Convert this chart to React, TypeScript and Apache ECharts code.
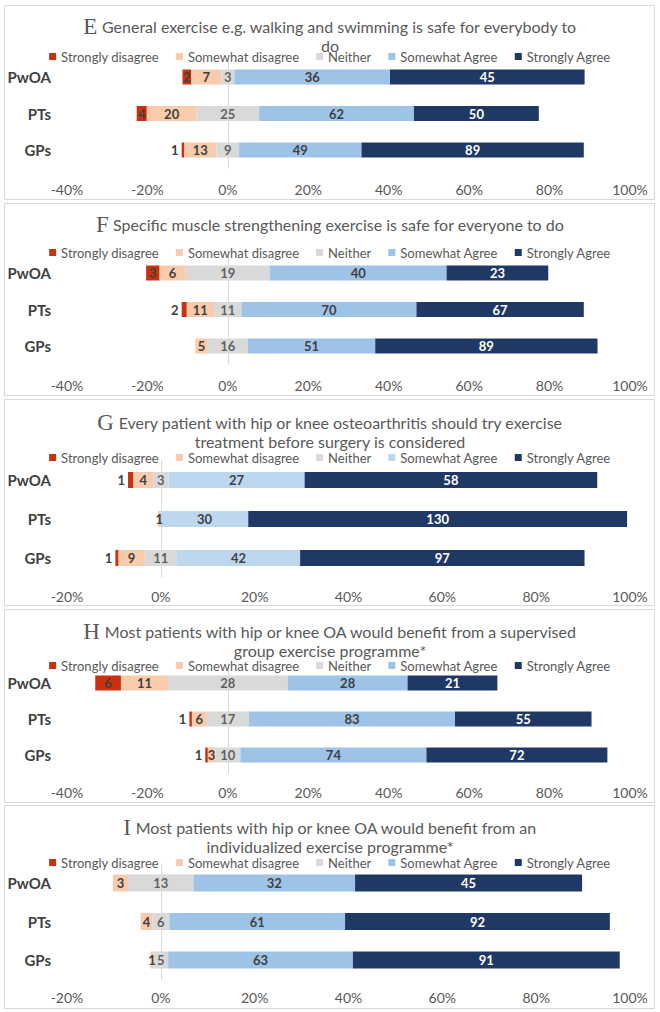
import React, { useEffect, useRef } from 'react';
import * as echarts from 'echarts';

const categories = ['PwOA', 'PTs', 'GPs'];
const responses = ['Strongly disagree', 'Somewhat disagree', 'Neither', 'Somewhat Agree', 'Strongly Agree'];

// counts per row: [Strongly disagree, Somewhat disagree, Neither, Somewhat Agree, Strongly Agree]
const countsE = [[2, 7, 3, 36, 45], [4, 20, 25, 62, 50], [1, 13, 9, 49, 89]];
const countsF = [[3, 6, 19, 40, 23], [2, 11, 11, 70, 67], [0, 5, 16, 51, 89]];
const countsG = [[1, 4, 3, 27, 58], [0, 1, 0, 30, 130], [1, 9, 11, 42, 97]];
const countsH = [[6, 11, 28, 28, 21], [1, 6, 17, 83, 55], [1, 3, 10, 74, 72]];
const countsI = [[0, 3, 13, 32, 45], [0, 4, 6, 61, 92], [0, 1, 5, 63, 91]];
const allCounts = [countsE, countsF, countsG, countsH, countsI];

const titleLetters = ['E', 'F', 'G', 'H', 'I'];
const titleLines = [
  ['General exercise e.g. walking and swimming is safe for everybody to', 'do'],
  ['Specific muscle strengthening exercise is safe for everyone to do'],
  ['Every patient with hip or knee osteoarthritis should try exercise', 'treatment before surgery is considered'],
  ['Most patients with hip or knee OA would benefit from a supervised', 'group exercise programme*'],
  ['Most patients with hip or knee OA would benefit from an', 'individualized exercise programme*'],
];
const axisMins = [-40, -40, -20, -40, -20];
const axisMax = 100;
const axisInterval = 20;

// styling
const colSD = '#c9310f';
const colSWD = '#f8cbad';
const colN = '#d9d9d9';
const colSA = ['#9dc3e6', '#9dc3e6', '#bdd7ee', '#9dc3e6', '#9dc3e6'];
const colSTA = '#203864';
const FONT = 'Lato';

// layout (pixels)
const layout = [
  { top: 5, bottom: 199, title: 26, legend: 57, row1: 77, sp: 36.5, axisY: 189, bw: 15 },
  { top: 203, bottom: 395, title: 224, legend: 253, row1: 273, sp: 36.5, axisY: 385, bw: 15 },
  { top: 399, bottom: 605, title: 422, legend: 458, row1: 480, sp: 39, axisY: 596, bw: 16 },
  { top: 609, bottom: 802, title: 631, legend: 666, row1: 683, sp: 36, axisY: 792, bw: 15 },
  { top: 805, bottom: 1008, title: 827, legend: 863, row1: 883, sp: 38.5, axisY: 997, bw: 17 },
];

function buildOption() {
  const grid: any[] = [];
  const xAxis: any[] = [];
  const yAxis: any[] = [];
  const series: any[] = [];
  const title: any[] = [];
  const legend: any[] = [];
  const graphic: any[] = [];

  allCounts.forEach((counts, i) => {
    const L = layout[i];
    const gTop = L.row1 - L.sp / 2;
    const gH = L.sp * 3;
    const gBottom = gTop + gH;
    const pct = counts.map((r) => {
      const tot = r.reduce((a, b) => a + b, 0);
      return r.map((v) => (v / tot) * 100);
    });
    const colors = [colSD, colSWD, colN, colSA[i], colSTA];

    grid.push({ left: 67, right: 30, top: gTop, height: gH, outerBoundsMode: 'none', containLabel: false });
    xAxis.push({
      type: 'value', gridIndex: i, min: axisMins[i], max: axisMax, interval: axisInterval,
      axisLine: { show: false }, axisTick: { show: false }, splitLine: { show: false },
      axisLabel: { formatter: '{value}%', color: '#595959', fontSize: 14, fontFamily: FONT, margin: L.axisY - gBottom - 7 },
    });
    yAxis.push({
      type: 'category', gridIndex: i, inverse: true, data: categories,
      axisLine: { show: false, onZero: false }, axisTick: { show: false },
      axisLabel: { color: '#404040', fontSize: 15, fontWeight: 'bold', fontFamily: FONT, margin: 16 },
    });
    yAxis.push({
      type: 'category', gridIndex: i, inverse: true, data: categories, position: 'left',
      axisLine: { show: true, onZero: true, lineStyle: { color: '#d9d9d9', width: 1 } },
      axisTick: { show: false }, axisLabel: { show: false },
    });
    const yIdx = i * 2;
    const stack = 'st' + i;
    const labelBase = { show: true, fontFamily: FONT, fontSize: 13, fontWeight: 'bold', color: '#404040' };

    const mk = (name: string, k: number, sign: number, half: boolean, withLabel: boolean, labelColor?: string) => ({
      name, type: 'bar', xAxisIndex: i, yAxisIndex: yIdx, stack, barWidth: L.bw,
      itemStyle: { color: colors[k] },
      label: withLabel ? { ...labelBase, color: labelColor || '#404040', position: 'inside', formatter: (p: any) => String(counts[p.dataIndex][k]) } : { show: false },
      data: counts.map((r, ri) => {
        if (r[k] === 0) return '-';
        const v = sign * (half ? pct[ri][k] / 2 : pct[ri][k]);
        if (withLabel && k === 0 && pct[ri][k] < 1.5) {
          return { value: v, label: { position: 'left', distance: 3 } };
        }
        return v;
      }),
    });

    series.push(mk('Neither', 2, -1, true, false));
    series.push(mk('Somewhat disagree', 1, -1, false, true));
    series.push(mk('Strongly disagree', 0, -1, false, true));
    series.push(mk('Neither', 2, 1, true, false));
    series.push(mk('Somewhat Agree', 3, 1, false, true));
    series.push(mk('Strongly Agree', 4, 1, false, true, '#ffffff'));
    series.push({
      name: 'neither-label-' + i, type: 'scatter', xAxisIndex: i, yAxisIndex: yIdx, z: 5,
      symbol: 'circle', symbolSize: 1, itemStyle: { color: 'rgba(0,0,0,0)' },
      label: { ...labelBase, position: 'inside', formatter: (p: any) => String(counts[p.dataIndex][2]) },
      data: counts.map((r, ri) => (r[2] === 0 ? { value: [0, ri], label: { show: false } } : [0, ri])),
    });

    const lines = titleLines[i];
    const text = `{l|${titleLetters[i]}}{t| ${lines[0]}}` + lines.slice(1).map((s) => `\n{t|${s}}`).join('');
    title.push({
      left: 'center', top: L.title - 9.5, padding: 0, text,
      textStyle: {
        fontWeight: 'normal',
        rich: {
          l: { fontFamily: 'Liberation Serif', fontSize: 23, fontWeight: 'normal', color: '#595959', lineHeight: 19, align: 'center' },
          t: { fontFamily: FONT, fontSize: 16, fontWeight: 'normal', color: '#595959', lineHeight: 19, align: 'center' },
        },
      },
    });
    legend.push({
      top: L.legend - 7, left: 'center', padding: 0, icon: 'rect', itemWidth: 7, itemHeight: 7, itemGap: 17,
      selectedMode: false,
      textStyle: { fontFamily: FONT, fontSize: 13, color: '#595959' },
      data: responses.map((n, k) => ({ name: n, itemStyle: { color: colors[k] } })),
    });
    graphic.push({
      type: 'rect', silent: true, z: -10,
      shape: { x: 4.5, y: L.top + 0.5, width: 650, height: L.bottom - L.top },
      style: { fill: 'none', stroke: '#d9d9d9', lineWidth: 1 },
    });
  });

  return { animation: false, backgroundColor: '#ffffff', grid, xAxis, yAxis, series, title, legend, graphic };
}

export default function App() {
  const ref = useRef<HTMLDivElement>(null);
  useEffect(() => {
    if (!ref.current) return;
    const chart = echarts.init(ref.current, undefined, { renderer: 'svg' });
    chart.setOption(buildOption() as any);
    return () => chart.dispose();
  }, []);
  return <div ref={ref} style={{ position: 'absolute', left: 0, top: 0, width: 660, height: 1012 }} />;
}
